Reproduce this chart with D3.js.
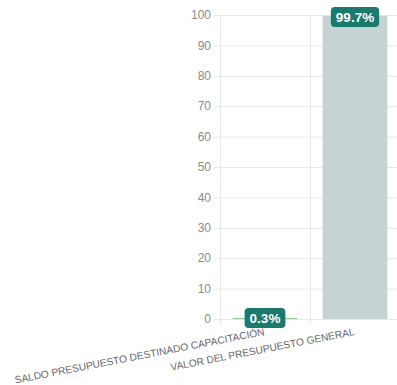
<!DOCTYPE html>
<html><head><meta charset="utf-8">
<script src="https://cdn.jsdelivr.net/npm/d3@7"></script>
<style>body{margin:0;background:#fff}svg{display:block}</style>
</head><body>
<svg id="c" width="397" height="385"></svg>
<script>
const categories = ["SALDO PRESUPUESTO DESTINADO CAPACITACIÓN", "VALOR DEL PRESUPUESTO GENERAL"];
const values = [0.3, 99.7];
const labels = ["0.3%", "99.7%"];
const barColors = ["#8cc98c", "#c5d3d2"];
const yTicks = [0,10,20,30,40,50,60,70,80,90,100];

(function(){
const svg = d3.select("#c");
const mL = 220, mR = 400, mT = 15, mB = 319;
const x = d3.scaleBand().domain(categories).range([mL, mR]).paddingInner(0).paddingOuter(0);
const y = d3.scaleLinear().domain([0,100]).range([mB, mT]);
const font = "Helvetica, Arial, 'Liberation Sans', sans-serif";

svg.append("g").selectAll("line").data(yTicks).join("line")
  .attr("x1", mL-6).attr("x2", mR).attr("y1", d=>y(d)+0.5).attr("y2", d=>y(d)+0.5)
  .attr("stroke", "#e8e8e8").attr("stroke-width", 1);
const vx = [mL, mL + x.bandwidth()];
svg.append("g").selectAll("line").data(vx).join("line")
  .attr("x1", d=>d+0.5).attr("x2", d=>d+0.5).attr("y1", mT).attr("y2", mB+6)
  .attr("stroke", "#e8e8e8").attr("stroke-width", 1);

svg.append("g").selectAll("text").data(yTicks).join("text")
  .attr("x", mL-9).attr("y", d=>y(d)).attr("dy", "0.35em")
  .attr("text-anchor", "end").attr("font-family", font).attr("font-size", 12)
  .attr("fill", "#8a8a8a").text(d=>d);

const bw = x.bandwidth()*0.72;
svg.append("g").selectAll("rect").data(values).join("rect")
  .attr("x", (d,i)=>x(categories[i]) + (x.bandwidth()-bw)/2)
  .attr("width", bw)
  .attr("y", d=>y(d)).attr("height", d=>Math.max(1, mB - y(d)))
  .attr("fill", (d,i)=>barColors[i]);

svg.append("g").selectAll("text").data(categories).join("text")
  .attr("transform", d=>`translate(${x(d)+x.bandwidth()/2},${mB+16}) rotate(-11)`)
  .attr("text-anchor", "end").attr("font-family", font).attr("font-size", 10.2)
  .attr("fill", "#666").text(d=>d);

const lg = svg.append("g").selectAll("g").data(values).join("g")
  .attr("transform", (d,i)=>`translate(${x(categories[i])+x.bandwidth()/2},${Math.max(y(d), mT+2)})`);
lg.each(function(d,i){
  const g = d3.select(this);
  const t = g.append("text").attr("text-anchor","middle").attr("dy","0.36em")
    .attr("font-family", font).attr("font-size", 13.5).attr("font-weight","bold")
    .attr("fill","#fff").text(labels[i]);
  const w = t.node().getComputedTextLength() + 10;
  g.insert("rect","text").attr("x", -w/2).attr("y", -10).attr("width", w).attr("height", 20)
    .attr("rx", 4).attr("fill", "#1a7a6e");
});
})();
</script>
</body></html>
